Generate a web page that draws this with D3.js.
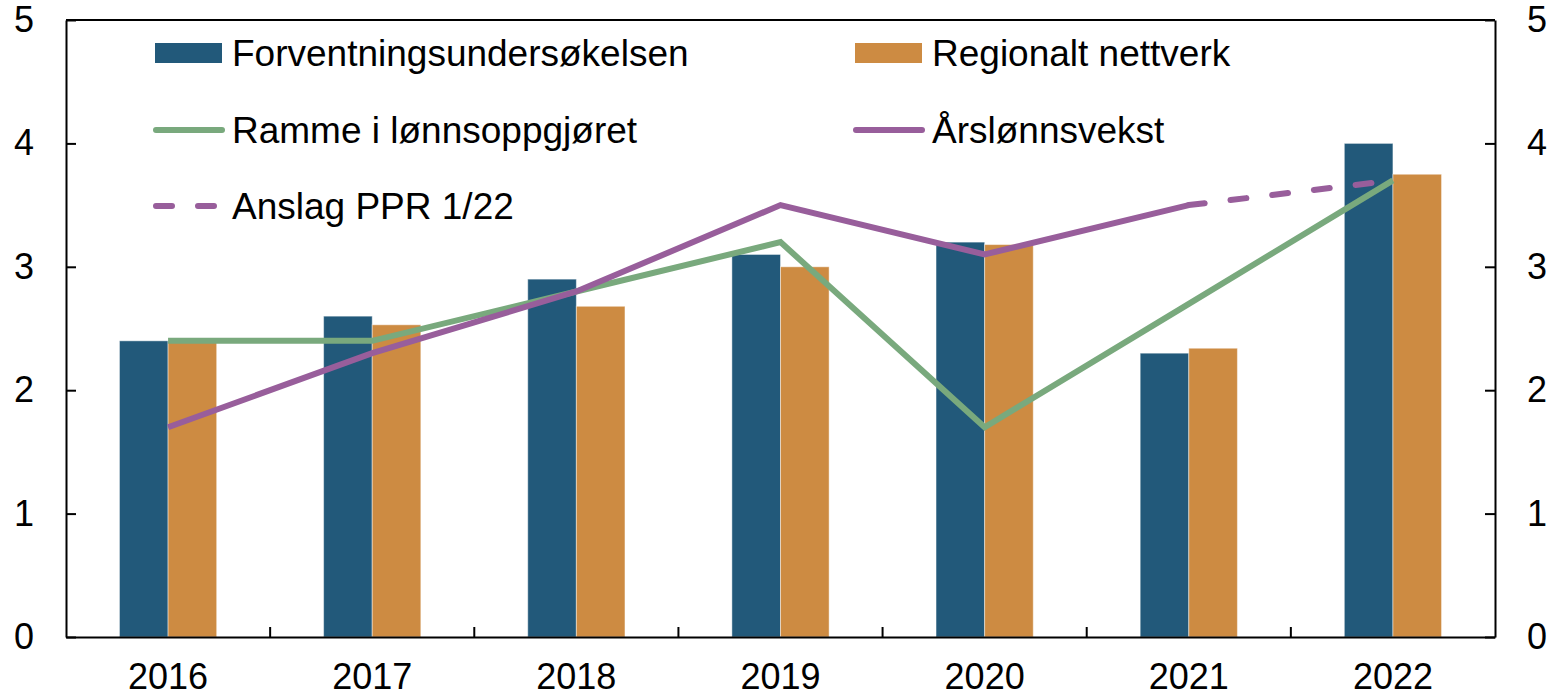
<!DOCTYPE html>
<html>
<head>
<meta charset="utf-8">
<script src="https://cdn.jsdelivr.net/npm/d3@7"></script>
<style>
  html, body { margin: 0; padding: 0; background: #fff; }
  svg { display: block; font-family: "Liberation Sans", Arial, sans-serif; }
</style>
</head>
<body>
<svg id="chart" width="1557" height="699"></svg>
<script>
// Categories and series
const years = ["2016", "2017", "2018", "2019", "2020", "2021", "2022"];
const forventning = [2.4, 2.6, 2.9, 3.1, 3.2, 2.3, 4.0];
const regionalt = [2.4, 2.53, 2.68, 3.0, 3.18, 2.34, 3.75];
const ramme = [2.4, 2.4, 2.8, 3.2, 1.7, 2.7, 3.7];
const arslonn = [1.7, 2.3, 2.8, 3.5, 3.1, 3.5, null];
const anslag = [null, null, null, null, null, 3.5, 3.7];
const yTicks = [0, 1, 2, 3, 4, 5];

const barSeries = ["Forventningsundersøkelsen", "Regionalt nettverk"];
const barValues = [forventning, regionalt];
const barColors = ["#22597a", "#cd8b42"];

const GREEN = "#79a97d";
const PURPLE = "#985e9b";

const svg = d3.select("#chart");
const m = { left: 66, right: 1495, top: 20, bottom: 637 };

const x = d3.scaleBand().domain(years).range([m.left, m.right]).paddingInner(0).paddingOuter(0);
const xSub = d3.scaleBand().domain(barSeries).range([0, x.bandwidth()]).paddingInner(0).paddingOuter(1.1);
const y = d3.scaleLinear().domain([0, 5]).range([m.bottom, m.top]);

// Bars
barSeries.forEach((s, si) => {
  svg.append("g").selectAll("rect")
    .data(years.map((yr, i) => ({ yr, v: barValues[si][i] })))
    .join("rect")
    .attr("x", d => x(d.yr) + xSub(s))
    .attr("y", d => y(d.v))
    .attr("width", xSub.bandwidth())
    .attr("height", d => y(0) - y(d.v))
    .attr("fill", barColors[si])
    .attr("stroke", "rgba(255,255,255,0.45)")
    .attr("stroke-width", 1);
});

// Lines
const cx = d => x(d.yr) + x.bandwidth() / 2;
const lineGen = d3.line().defined(d => d.v != null).x(cx).y(d => y(d.v));
const asPts = arr => years.map((yr, i) => ({ yr, v: arr[i] }));

svg.append("path").datum(asPts(ramme)).attr("d", lineGen)
  .attr("fill", "none").attr("stroke", GREEN).attr("stroke-width", 6).attr("stroke-linejoin", "miter");
svg.append("path").datum(asPts(arslonn)).attr("d", lineGen)
  .attr("fill", "none").attr("stroke", PURPLE).attr("stroke-width", 6).attr("stroke-linejoin", "miter");
svg.append("path").datum(asPts(anslag)).attr("d", lineGen)
  .attr("fill", "none").attr("stroke", PURPLE).attr("stroke-width", 6)
  .attr("stroke-linecap", "round").attr("stroke-dasharray", "16,26");

// Frame: top border and axes
svg.append("line").attr("x1", m.left).attr("x2", m.right).attr("y1", m.top).attr("y2", m.top)
  .attr("stroke", "#000").attr("stroke-width", 2);

const leftAxis = svg.append("g").attr("transform", `translate(${m.left},0)`)
  .call(d3.axisLeft(y).tickValues(yTicks).tickFormat(d3.format("d")).tickSizeInner(-10).tickSizeOuter(0).tickPadding(32));
const rightAxis = svg.append("g").attr("transform", `translate(${m.right},0)`)
  .call(d3.axisRight(y).tickValues(yTicks).tickFormat(d3.format("d")).tickSizeInner(-10).tickSizeOuter(0).tickPadding(32));

const bottomAxis = svg.append("g").attr("transform", `translate(0,${m.bottom})`)
  .call(d3.axisBottom(x).tickSize(0).tickPadding(26));
// Category boundary ticks pointing up into the plot
svg.append("g").selectAll("line")
  .data(years.slice(1))
  .join("line")
  .attr("x1", d => x(d)).attr("x2", d => x(d))
  .attr("y1", m.bottom).attr("y2", m.bottom - 10)
  .attr("stroke", "#000").attr("stroke-width", 2);

[leftAxis, rightAxis, bottomAxis].forEach(g => {
  g.selectAll(".domain").attr("stroke", "#000").attr("stroke-width", 2);
  g.selectAll(".tick line").attr("stroke", "#000").attr("stroke-width", 2);
  g.selectAll("text").attr("font-size", 36).attr("fill", "#000")
    .attr("font-family", "'Liberation Sans', Arial, sans-serif");
});
bottomAxis.selectAll("text").attr("dy", "0.71em");

// Legend
const legendItems = [
  { label: "Forventningsundersøkelsen", type: "rect", color: barColors[0], col: 0, row: 0 },
  { label: "Regionalt nettverk", type: "rect", color: barColors[1], col: 1, row: 0 },
  { label: "Ramme i lønnsoppgjøret", type: "line", color: GREEN, col: 0, row: 1 },
  { label: "Årslønnsvekst", type: "line", color: PURPLE, col: 1, row: 1 },
  { label: "Anslag PPR 1/22", type: "dash", color: PURPLE, col: 0, row: 2 }
];
const legX = [155, 855];
const legY = [53, 130, 206];
const lg = svg.append("g");
legendItems.forEach(it => {
  const gx = legX[it.col], gy = legY[it.row];
  if (it.type === "rect") {
    lg.append("rect").attr("x", gx).attr("y", gy - 10).attr("width", 67).attr("height", 20).attr("fill", it.color);
  } else if (it.type === "line") {
    lg.append("line").attr("x1", gx + 1).attr("x2", gx + 67).attr("y1", gy).attr("y2", gy)
      .attr("stroke", it.color).attr("stroke-width", 6).attr("stroke-linecap", "round");
  } else {
    lg.append("line").attr("x1", gx + 1).attr("x2", gx + 67).attr("y1", gy).attr("y2", gy)
      .attr("stroke", it.color).attr("stroke-width", 6).attr("stroke-linecap", "round")
      .attr("stroke-dasharray", "16,26");
  }
  lg.append("text").attr("x", gx + 77).attr("y", gy).attr("dy", "0.35em")
    .attr("font-size", 37).attr("fill", "#000").text(it.label);
});
</script>
</body>
</html>
